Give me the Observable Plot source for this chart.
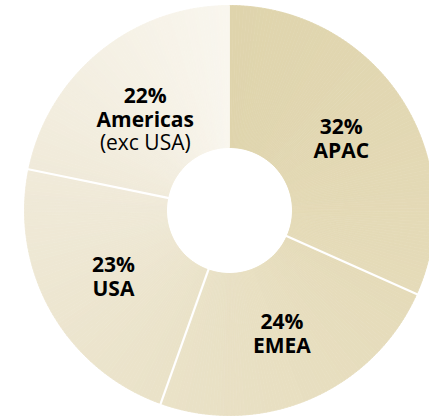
<!DOCTYPE html>
<html>
<head>
<meta charset="utf-8">
<script src="https://cdn.jsdelivr.net/npm/d3@7"></script>
<script src="https://cdn.jsdelivr.net/npm/@observablehq/plot@0.6"></script>
<style>
  html, body { margin: 0; padding: 0; background: #fff; }
  #chart svg { display: block; }
</style>
</head>
<body>
<div id="chart"></div>
<script>
// ---- data ----
const regions = ["APAC", "EMEA", "USA", "Americas"];
const shares = [32, 24, 23, 22];
const notes = ["", "", "", "(exc USA)"];

// ---- layout ----
const W = 429, H = 416;
const cx = 229, cy = 210, R = 205;      // px
const rOuter = 1, rInner = 63 / R, rLabel = 0.65;
const lineH = 24 / R;

const total = d3.sum(shares);
let cum = 0;
const slices = regions.map((region, i) => {
  const a0 = cum / total; cum += shares[i];
  return {region, share: shares[i], note: notes[i], a0, a1: cum / total};
});
const px = (r, t) => r * Math.sin(2 * Math.PI * t);
const py = (r, t) => r * Math.cos(2 * Math.PI * t);

// sub-wedges for the angular gradient
const wedgeRows = [];
let id = 0;
for (const s of slices) {
  const n = Math.ceil((s.a1 - s.a0) * 360);
  for (let j = 0; j < n; j++) {
    const t0 = s.a0 + (s.a1 - s.a0) * j / n;
    const t1 = s.a0 + (s.a1 - s.a0) * (j + 1) / n;
    const c = (t0 + t1) / 2;
    for (const [r, t] of [[rOuter, t0], [rOuter, t1], [rInner, t1], [rInner, t0]]) {
      wedgeRows.push({id, x: px(r, t), y: py(r, t), c});
    }
    id++;
  }
}

const boundaries = slices.slice(1).map(s => s.a0);

// label anchors: bold two-line block centred on the ring's mid-radius, note hangs below
const labels = slices.map(s => {
  const tm = (s.a0 + s.a1) / 2;
  return {text: s.share + "%\n" + s.region, note: s.note, x: px(rLabel, tm), y: py(rLabel, tm)};
});
const noteRows = labels.filter(d => d.note).map(d => ({text: d.note, x: d.x, y: d.y - 1.5 * lineH}));

const chart = Plot.plot({
  width: W,
  height: H,
  margin: 0,
  style: {fontFamily: "'Open Sans', 'Noto Sans', sans-serif", background: "#fff"},
  x: {axis: null, domain: [-cx / R, (W - cx) / R]},
  y: {axis: null, domain: [-(H - cy) / R, cy / R]},
  color: {
    type: "linear",
    domain: [0, 0.32, 0.56, 0.78, 1],
    range: ["#dfd4ac", "#e5dbb9", "#eae2c8", "#f0ead9", "#f9f6ee"],
    interpolate: "rgb"
  },
  marks: [
    Plot.line(wedgeRows, {x: "x", y: "y", z: "id", fill: "c", stroke: "c", strokeWidth: 0.8, curve: "linear-closed"}),
    Plot.link(boundaries, {
      x1: t => px(rInner * 0.98, t), y1: t => py(rInner * 0.98, t),
      x2: t => px(rOuter * 1.02, t), y2: t => py(rOuter * 1.02, t),
      stroke: "white", strokeWidth: 2.2
    }),
    Plot.text(labels, {x: "x", y: "y", text: "text", fontWeight: "bold", fontSize: 21, lineHeight: 24 / 21, fill: "#000"}),
    Plot.text(noteRows, {x: "x", y: "y", text: "text", fontWeight: "normal", fontSize: 21, fill: "#000"})
  ]
});
document.getElementById("chart").appendChild(chart);
</script>
</body>
</html>
